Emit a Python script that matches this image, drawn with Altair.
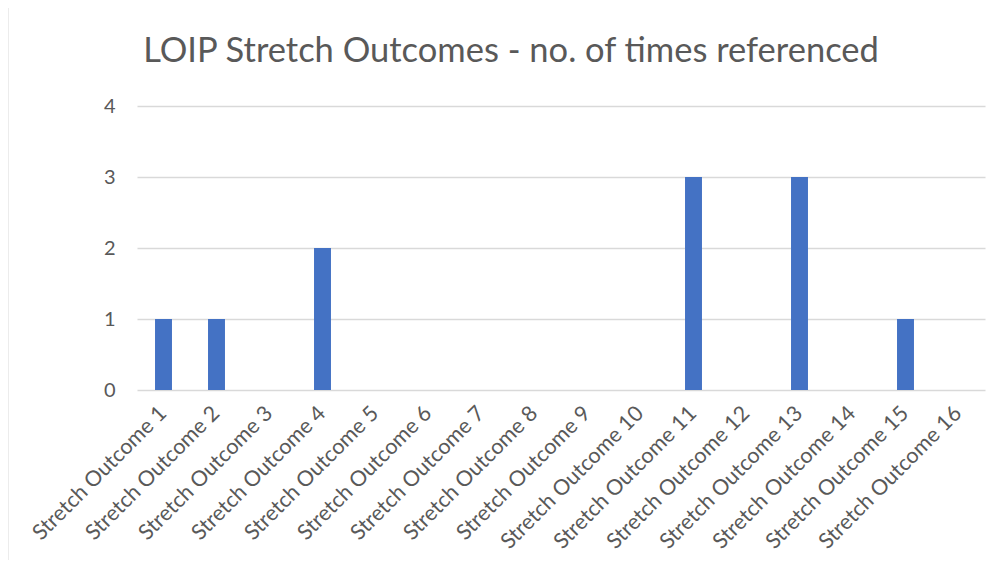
import altair as alt
import pandas as pd

categories = [f"Stretch Outcome {i}" for i in range(1, 17)]
values = [1, 1, 0, 2, 0, 0, 0, 0, 0, 0, 3, 0, 3, 0, 1, 0]
y_ticks = [0, 1, 2, 3, 4]
title_text = "LOIP Stretch Outcomes - no. of times referenced"

df = pd.DataFrame({"outcome": categories, "count": values})

FONT = "Lato"
GRAY = "#595959"

bars = alt.Chart(df).mark_bar(color="#4472C4").encode(
    x=alt.X(
        "outcome:N",
        sort=categories,
        title=None,
        scale=alt.Scale(paddingInner=0.68, paddingOuter=0.34),
        axis=alt.Axis(
            labelAngle=-45,
            labelAlign="right",
            labelBaseline="middle",
            labelFont=FONT,
            labelFontSize=21.5,
            labelColor=GRAY,
            labelPadding=20,
            labelOverlap=False,
            labelLimit=400,
            ticks=False,
            domain=False,
            grid=False,
        ),
    ),
    y=alt.Y(
        "count:Q",
        title=None,
        scale=alt.Scale(domain=[0, 4], nice=False),
        axis=alt.Axis(
            values=y_ticks,
            labelFont=FONT,
            labelFontSize=20,
            labelColor=GRAY,
            labelPadding=22,
            ticks=False,
            domain=False,
            grid=True,
            gridColor="#d9d9d9",
            gridWidth=1.3,
        ),
    ),
)

frame_df = pd.DataFrame({"k": [0]})
left_border = alt.Chart(frame_df).mark_rule(color="#d9d9d9", strokeWidth=1).encode(
    x=alt.value(-129), y=alt.value(-99), y2=alt.value(480)
)
top_border = alt.Chart(frame_df).mark_rule(color="#d9d9d9", strokeWidth=1).encode(
    x=alt.value(-129), x2=alt.value(870), y=alt.value(-99)
)
title_mark = alt.Chart(frame_df).mark_text(
    text=title_text,
    font=FONT,
    fontSize=34.5,
    color=GRAY,
    align="center",
    baseline="alphabetic",
).encode(x=alt.value(374), y=alt.value(-44))

chart = (
    alt.layer(left_border, top_border, title_mark, bars)
    .properties(
        width=848,
        height=284,
        autosize=alt.AutoSizeParams(type="none"),
        padding={"left": 129, "top": 98, "right": 8, "bottom": 170},
    )
    .configure(background="white")
    .configure_view(strokeWidth=0)
)

chart.save("out.html", embed_options={"renderer": "svg", "actions": False})
